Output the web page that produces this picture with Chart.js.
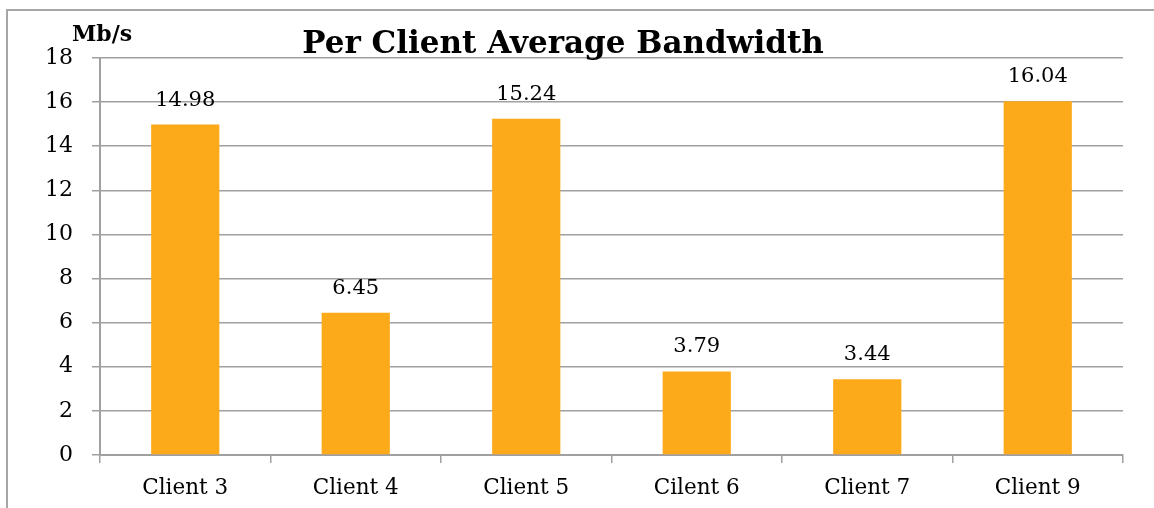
<!DOCTYPE html>
<html>
<head>
<meta charset="utf-8">
<script src="https://cdn.jsdelivr.net/npm/chart.js@4"></script>
<style>
  html, body { margin: 0; padding: 0; background: #fff; overflow: hidden; }
  canvas { display: block; }
</style>
</head>
<body>
<canvas id="myChart" width="1154" height="508"></canvas>
<script>
// Per client bandwidth (Mb/s)
const clients = ['Client 3', 'Client 4', 'Client 5', 'Cilent 6', 'Client 7', 'Client 9'];
const bandwidth = [14.98, 6.45, 15.24, 3.79, 3.44, 16.04];
const yTicks = [0, 2, 4, 6, 8, 10, 12, 14, 16, 18];

const chartTitle = 'Per Client Average Bandwidth';
const unitLabel = 'Mb/s';
const serif = '"DejaVu Serif", serif';

// outer frame (only left and top edges are inside the picture)
const framePlugin = {
  id: 'frame',
  beforeDraw(chart) {
    const ctx = chart.ctx;
    ctx.save();
    ctx.fillStyle = '#fff';
    ctx.fillRect(0, 0, chart.width, chart.height);
    ctx.strokeStyle = '#a6a6a6';
    ctx.lineWidth = 2;
    ctx.beginPath();
    ctx.moveTo(7, chart.height);
    ctx.lineTo(7, 10);
    ctx.lineTo(chart.width, 10);
    ctx.stroke();
    ctx.restore();
  }
};

// values drawn above the bars + title and unit text
const textPlugin = {
  id: 'texts',
  afterDatasetsDraw(chart) {
    const ctx = chart.ctx;
    const meta = chart.getDatasetMeta(0);
    ctx.save();
    ctx.fillStyle = '#000';
    ctx.textAlign = 'center';
    ctx.textBaseline = 'alphabetic';
    ctx.font = '21px ' + serif;
    meta.data.forEach((bar, i) => {
      ctx.fillText(bandwidth[i].toFixed(2), bar.x, bar.y - 19);
    });
    ctx.font = 'bold 31px ' + serif;
    ctx.fillText(chartTitle, 563, 53);
    ctx.font = 'bold 22px ' + serif;
    ctx.textAlign = 'left';
    ctx.fillText(unitLabel, 72, 41);
    ctx.restore();
  }
};

const ctx = document.getElementById('myChart').getContext('2d');
const myChart = new Chart(ctx, {
  type: 'bar',
  data: {
    labels: clients,
    datasets: [{
      data: bandwidth,
      backgroundColor: '#fdaa1a',
      borderWidth: 0,
      barPercentage: 0.4,
      categoryPercentage: 1
    }]
  },
  options: {
    responsive: false,
    animation: false,
    layout: { padding: { left: 0, top: 58, right: 31, bottom: 0 } },
    plugins: {
      legend: { display: false },
      tooltip: { enabled: false }
    },
    scales: {
      x: {
        grid: {
          offset: true,
          drawOnChartArea: false,
          drawTicks: true,
          tickLength: 8,
          color: '#a0a0a0',
          lineWidth: 1.5
        },
        border: { color: '#a0a0a0', width: 2 },
        ticks: { color: '#000', font: { family: serif, size: 21.5 }, padding: 13 },
        afterFit(scale) { scale.height = 53; }
      },
      y: {
        min: 0,
        max: 18,
        afterBuildTicks(scale) { scale.ticks = yTicks.map(v => ({ value: v })); },
        grid: { color: '#a0a0a0', lineWidth: 1.5, tickLength: 8 },
        border: { color: '#a0a0a0', width: 2 },
        ticks: { color: '#000', font: { family: serif, size: 22 }, padding: 19 },
        afterFit(scale) { scale.width = 100; }
      }
    }
  },
  plugins: [framePlugin, textPlugin]
});
</script>
</body>
</html>
